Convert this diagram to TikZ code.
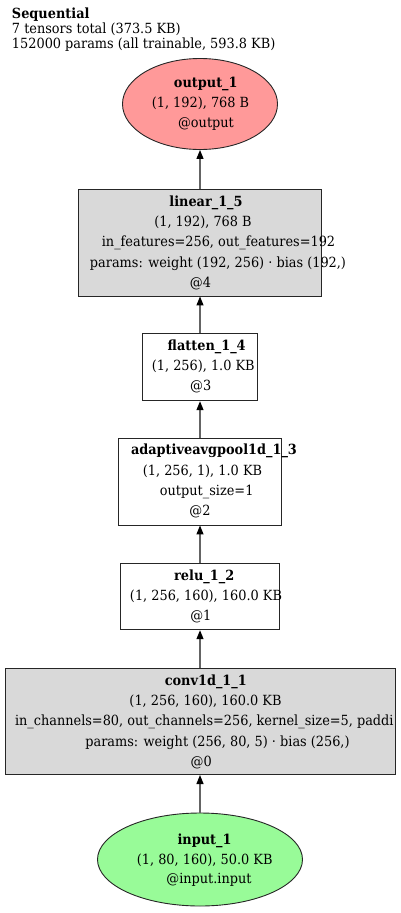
\documentclass[tikz,border=0pt]{standalone}
\usepackage{fontspec}
\setmainfont{DejaVu Serif}[FakeStretch=0.92]
\usetikzlibrary{shapes.geometric,arrows.meta}
\definecolor{outfill}{RGB}{255,153,153}
\definecolor{infill}{RGB}{152,251,152}
\definecolor{boxfill}{RGB}{217,217,217}
\definecolor{edgecol}{RGB}{100,100,100}
\begin{document}
\begin{tikzpicture}[x=1pt,y=-1pt,
  font=\fontsize{14}{16}\selectfont,
  shapebox/.style={draw=black!85, line width=0.9pt, inner sep=0pt, rectangle},
  shapeell/.style={draw=black!85, line width=0.9pt, inner sep=0pt, ellipse},
  txt/.style={anchor=base, inner sep=0pt, outer sep=0pt},
  txtl/.style={anchor=base west, inner sep=0pt, outer sep=0pt},
  conn/.style={draw=edgecol, line width=1.2pt, -{Triangle[length=9pt,width=7pt,fill=black,color=black]}}
]
\useasboundingbox (0,0) rectangle (400,913);
% title
\node[txtl] (t1) at (12,18.3) {\textbf{Sequential}};
\node[txtl] (t2) at (12,33.3) {7 tensors total (373.5 KB)};
\node[txtl] (t3) at (12,48.3) {152000 params (all trainable, 593.8 KB)};

% shapes
\node[shapeell, fill=outfill, minimum width=155pt, minimum height=91pt] (output) at (200,104) {};
\node[shapebox, fill=boxfill, minimum width=243pt, minimum height=107pt] (linear) at (200,242.5) {};
\node[shapebox, fill=white, minimum width=115pt, minimum height=67.5pt] (flatten) at (200,367) {};
\node[shapebox, fill=white, minimum width=163pt, minimum height=87pt] (pool) at (200,481.5) {};
\node[shapebox, fill=white, minimum width=158.5pt, minimum height=66.5pt] (relu) at (200,596.5) {};
\node[shapebox, fill=boxfill, minimum width=390pt, minimum height=106.5pt] (conv) at (200,721.3) {};
\node[shapeell, fill=infill, minimum width=205pt, minimum height=93pt] (input) at (200,859.5) {};

% connectors
\draw[conn] (input.north) -- (conv.south);
\draw[conn] (conv.north) -- (relu.south);
\draw[conn] (relu.north) -- (pool.south);
\draw[conn] (pool.north) -- (flatten.south);
\draw[conn] (flatten.north) -- (linear.south);
\draw[conn] (linear.north) -- (output.south);

% output texts
\node[txt] (o1) at (205.8,87.3) {\textbf{output\_1}};
\node[txt] (o2) at (200.5,107.3) {(1, 192), 768 B};
\node[txt] (o3) at (206,127.3) {@output};

% linear texts
\node[txt] (l1) at (206,206.7) {\textbf{linear\_1\_5}};
\node[txt] (l2) at (203,226.7) {(1, 192), 768 B};
\node[txt] (l3) at (218.5,246.7) {in\_features=256, out\_features=192};
\node[txt] (l4) at (218,267.3) {params: weight (192, 256) · bias (192,)};
\node[txt] (l5) at (200.5,287.3) {@4};

% flatten texts
\node[txt] (f1) at (206.7,350.7) {\textbf{flatten\_1\_4}};
\node[txt] (f2) at (203.3,370.7) {(1, 256), 1.0 KB};
\node[txt] (f3) at (200.7,390.7) {@3};

% pool texts
\node[txt] (p1) at (214,454.3) {\textbf{adaptiveavgpool1d\_1\_3}};
\node[txt] (p2) at (202.5,475) {(1, 256, 1), 1.0 KB};
\node[txt] (p3) at (206.7,495) {output\_size=1};
\node[txt] (p4) at (200,515) {@2};

% relu texts
\node[txt] (r1) at (204.2,580.7) {\textbf{relu\_1\_2}};
\node[txt] (r2) at (206,600.7) {(1, 256, 160), 160.0 KB};
\node[txt] (r3) at (200.8,620.7) {@1};

% conv texts
\node[txt] (c1) at (205.8,685) {\textbf{conv1d\_1\_1}};
\node[txt] (c2) at (205.5,705.7) {(1, 256, 160), 160.0 KB};
\node[txtl] (c3) at (15,725.7) {in\_channels=80, out\_channels=256, kernel\_size=5, paddi};
\node[txt] (c4) at (217.5,746) {params: weight (256, 80, 5) · bias (256,)};
\node[txt] (c5) at (201.2,766) {@0};

% input texts
\node[txt] (i1) at (204.5,844) {\textbf{input\_1}};
\node[txt] (i2) at (204.7,864) {(1, 80, 160), 50.0 KB};
\node[txt] (i3) at (209,883.3) {@input.input};
\end{tikzpicture}
\end{document}
